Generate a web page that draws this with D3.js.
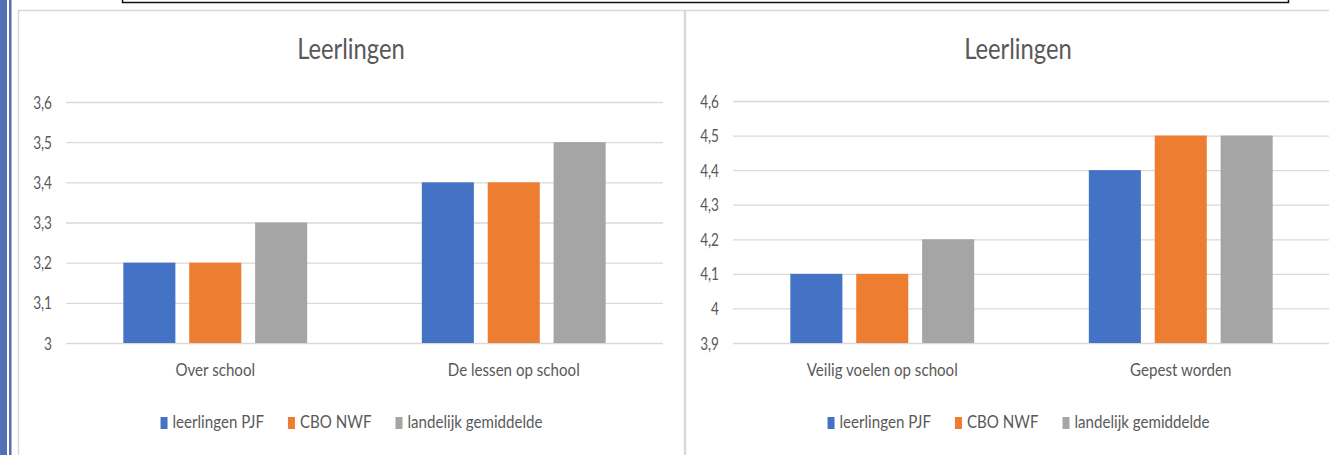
<!DOCTYPE html>
<html>
<head>
<meta charset="utf-8">
<script src="https://cdn.jsdelivr.net/npm/d3@7"></script>
<style>
    body { margin: 0; background: #fff; }
    svg { display: block; }
    text { font-family: Lato, "Open Sans", sans-serif; fill: #595959; }
</style>
</head>
<body>
<div id="chart"></div>
<script>

// Data

const seriesNames = ["leerlingen PJF", "CBO NWF", "landelijk gemiddelde"];
const seriesColors = ["#4472C4", "#ED7D31", "#A5A5A5"];

const titleLeft = "Leerlingen";
const categoriesLeft = ["Over school", "De lessen op school"];
const pjfLeft = [3.2, 3.4];
const cboLeft = [3.2, 3.4];
const landelijkLeft = [3.3, 3.5];
const ticksLeft = [3, 3.1, 3.2, 3.3, 3.4, 3.5, 3.6];

const titleRight = "Leerlingen";
const categoriesRight = ["Veilig voelen op school", "Gepest worden"];
const pjfRight = [4.1, 4.4];
const cboRight = [4.1, 4.5];
const landelijkRight = [4.2, 4.5];
const ticksRight = [3.9, 4, 4.1, 4.2, 4.3, 4.4, 4.5, 4.6];

// Configure

const width = 1329;
const height = 455;

const design = {
    grid: "#D9D9D9",
    border: "#D9D9D9",
    text: "#595959",
    squeeze: 0.84,
};

const locale = d3.formatLocale({ decimal: ",", thousands: ".", grouping: [3], currency: ["€", ""] });
const tickFormat = locale.format("~g");

const svg = d3.select("#chart").append("svg")
    .attr("width", width)
    .attr("height", height);

// Page decoration (page border left, text box on top)

svg.append("rect").attr("x", 0).attr("y", 0).attr("width", 7).attr("height", height).attr("fill", "#5470B4");
svg.append("rect").attr("x", 9).attr("y", 0).attr("width", 2.5).attr("height", height).attr("fill", "#5470B4");
svg.append("rect")
    .attr("x", 122.5).attr("y", -10).attr("width", 1166).attr("height", 12.5)
    .attr("fill", "none").attr("stroke", "#111").attr("stroke-width", 1.5);

// squeezed text helper (source chart renders in a narrow font)

function squeezedText(parent, x, y, str, size, anchor, k) {
    return parent.append("text")
        .attr("transform", "translate(" + x + "," + y + ") scale(" + k + ",1)")
        .attr("text-anchor", anchor)
        .attr("font-size", size)
        .text(str);
}

function drawPanel(config) {

    const g = svg.append("g").attr("transform", "translate(" + config.left + ",0)");

    const panelWidth = 666;
    const plot = { left: 48, right: 645, top: config.top, bottom: 343 };

    g.append("rect")
        .attr("x", 0.5).attr("y", 10.5)
        .attr("width", panelWidth).attr("height", height + 20)
        .attr("fill", "#fff")
        .attr("stroke", design.border)
        .attr("stroke-width", 1.5);

    // Scales

    const yScale = d3.scaleLinear()
        .domain(d3.extent(config.ticks))
        .range([plot.bottom, plot.top]);

    const x0 = d3.scaleBand()
        .domain(config.categories)
        .range([plot.left, plot.right]);

    const x1 = d3.scaleBand()
        .domain(seriesNames)
        .range([0, x0.bandwidth()])
        .paddingInner(0.21)
        .paddingOuter(0.87);

    // Gridlines + y labels

    const yAxis = d3.axisLeft(yScale)
        .tickValues(config.ticks)
        .tickFormat(tickFormat)
        .tickSizeInner(-(plot.right - plot.left))
        .tickSizeOuter(0)
        .tickPadding(14);

    const ya = g.append("g")
        .attr("transform", "translate(" + plot.left + ",0)")
        .call(yAxis);
    ya.select(".domain").remove();
    ya.selectAll("line").attr("stroke", design.grid).attr("stroke-width", 1.3);
    ya.selectAll("text").remove();
    ya.selectAll(".tick").each(function (d) {
        squeezedText(d3.select(this), -14, 6, tickFormat(d), 17, "end", 0.8);
    });

    // Bars

    const rows = config.categories.map((c, i) => ({
        category: c,
        values: [config.pjf[i], config.cbo[i], config.landelijk[i]],
    }));

    const groups = g.selectAll(".cat").data(rows).enter()
        .append("g")
        .attr("class", "cat")
        .attr("transform", row => "translate(" + x0(row.category) + ",0)");

    groups.selectAll("rect")
        .data(row => row.values.map((v, i) => ({ name: seriesNames[i], value: v, color: seriesColors[i] })))
        .enter()
        .append("rect")
        .attr("x", d => x1(d.name))
        .attr("width", x1.bandwidth())
        .attr("y", d => yScale(d.value))
        .attr("height", d => plot.bottom - yScale(d.value))
        .attr("fill", d => d.color);

    // Category axis

    const xAxis = d3.axisBottom(x0).tickSize(0).tickFormat("");
    const xa = g.append("g")
        .attr("transform", "translate(0," + plot.bottom + ")")
        .call(xAxis);
    xa.select(".domain").remove();
    xa.selectAll(".tick").each(function (d) {
        squeezedText(d3.select(this), 0, 33, d, 18, "middle", design.squeeze);
    });

    // Title

    squeezedText(g, panelWidth / 2, 59, config.title, 28, "middle", 0.85);

    // Legend

    const legend = g.append("g");
    let cursor = 0;
    seriesNames.forEach((name, i) => {
        legend.append("rect")
            .attr("x", cursor).attr("y", 417)
            .attr("width", 7).attr("height", 12)
            .attr("fill", seriesColors[i]);
        const t = squeezedText(legend, cursor + 12, 428, name, 18, "start", design.squeeze);
        cursor += 12 + t.node().getComputedTextLength() * design.squeeze + 24;
    });
    cursor -= 24;
    legend.attr("transform", "translate(" + (panelWidth / 2 + 0.5 - cursor / 2) + ",0)");
}

drawPanel({
    left: 18, top: 102, title: titleLeft, categories: categoriesLeft,
    pjf: pjfLeft, cbo: cboLeft, landelijk: landelijkLeft, ticks: ticksLeft,
});

drawPanel({
    left: 685, top: 101, title: titleRight, categories: categoriesRight,
    pjf: pjfRight, cbo: cboRight, landelijk: landelijkRight, ticks: ticksRight,
});

</script>
</body>
</html>
